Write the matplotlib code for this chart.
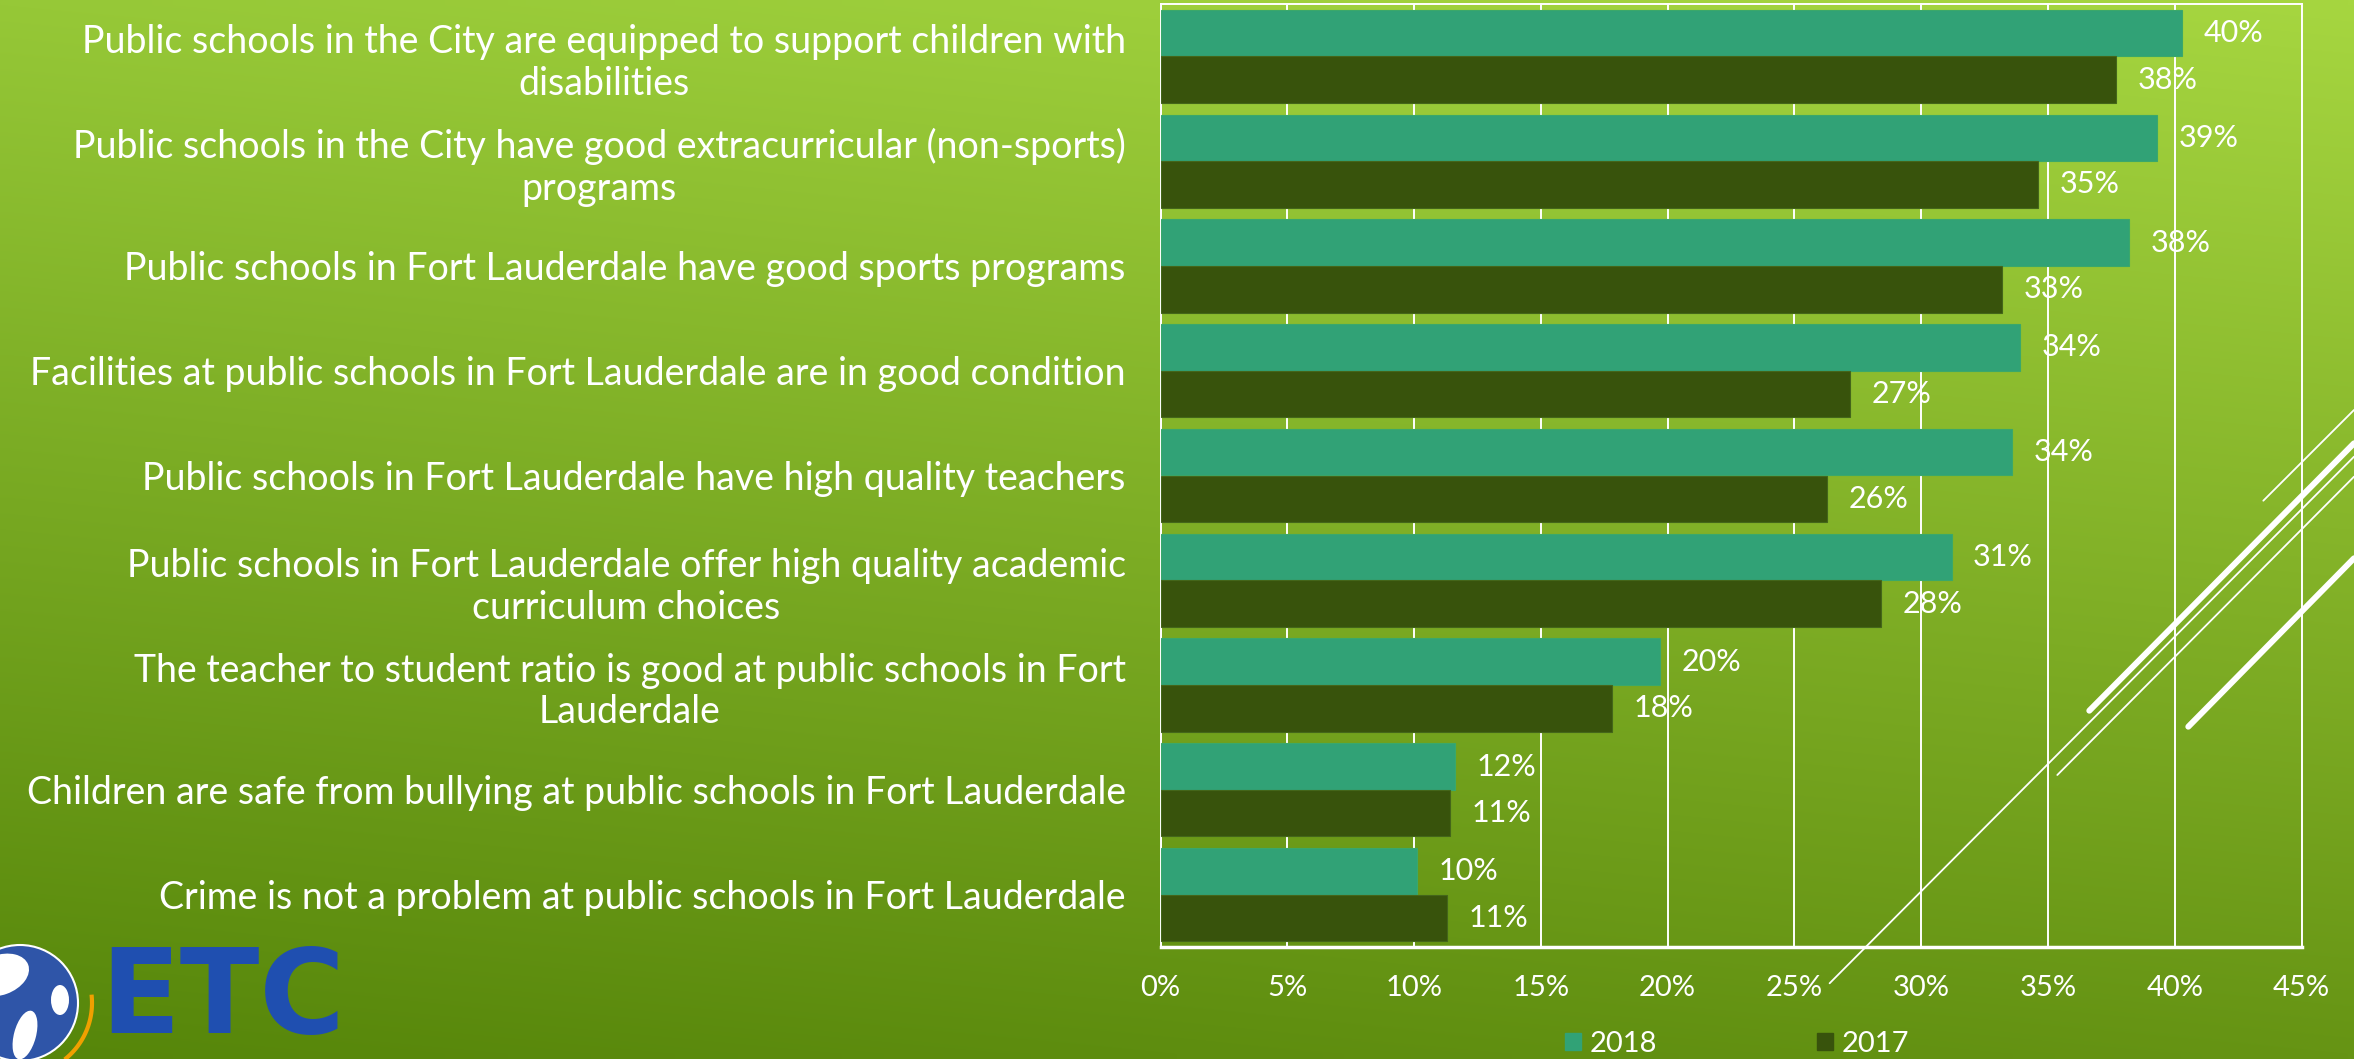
import numpy as np
import matplotlib.pyplot as plt
from matplotlib import patches

categories = [
    "Public schools in the City are equipped to support children with\ndisabilities",
    "Public schools in the City have good extracurricular (non-sports)\nprograms",
    "Public schools in Fort Lauderdale have good sports programs",
    "Facilities at public schools in Fort Lauderdale are in good condition",
    "Public schools in Fort Lauderdale have high quality teachers",
    "Public schools in Fort Lauderdale offer high quality academic\ncurriculum choices",
    "The teacher to student ratio is good at public schools in Fort\nLauderdale",
    "Children are safe from bullying at public schools in Fort Lauderdale",
    "Crime is not a problem at public schools in Fort Lauderdale",
]
pct_2018 = [40.3, 39.3, 38.2, 33.9, 33.6, 31.2, 19.7, 11.6, 10.1]
pct_2017 = [37.7, 34.6, 33.2, 27.2, 26.3, 28.4, 17.8, 11.4, 11.3]
xticks = [0, 5, 10, 15, 20, 25, 30, 35, 40, 45]
series = ["2018", "2017"]

c2018 = "#31a276"
c2017 = "#38530c"
font = "Lato"

W, H = 2354, 1059
fig = plt.figure(figsize=(W / 100, H / 100), dpi=100)

# background gradient (light top-right -> dark bottom-left)
tl, tr = np.array([150, 200, 55]), np.array([166, 214, 64])
bl, br = np.array([86, 134, 10]), np.array([102, 148, 20])
v, u = np.mgrid[0:1:100j, 0:1:200j]
grad = ((1 - v)[..., None] * ((1 - u)[..., None] * tl + u[..., None] * tr)
        + v[..., None] * ((1 - u)[..., None] * bl + u[..., None] * br)) / 255
bg = fig.add_axes([0, 0, 1, 1], zorder=0)
bg.imshow(grad, extent=[0, 1, 0, 1], aspect="auto", interpolation="bilinear")
bg.axis("off")

# main chart
ax = fig.add_axes([1160.5 / W, 1 - 947 / H, 1141 / W, 943 / H], zorder=1)
ax.patch.set_alpha(0)
y = np.arange(len(categories))
h = 0.445
ax.barh(y - h / 2, pct_2018, height=h, color=c2018, edgecolor="#3aa86a", lw=0.8, label=series[0], zorder=3)
ax.barh(y + h / 2, pct_2017, height=h, color=c2017, edgecolor="#44661a", lw=0.8, label=series[1], zorder=3)
for yy, a, b in zip(y, pct_2018, pct_2017):
    ax.text(a + 0.85, yy - h / 2, f"{a:.0f}%", va="center", ha="left", color="white",
            fontsize=22, family=font)
    ax.text(b + 0.85, yy + h / 2, f"{b:.0f}%", va="center", ha="left", color="white",
            fontsize=22, family=font)

ax.set_xlim(0, 45)
ax.set_ylim(len(categories) - 0.5, -0.5)
ax.set_xticks(xticks)
ax.set_xticklabels([f"{t}%" for t in xticks], family=font, fontsize=21, color="white")
ax.set_yticks(y)
ax.set_yticklabels(categories, family=font, fontsize=27, color="white",
                   multialignment="center")
ax.tick_params(axis="both", length=0)
ax.tick_params(axis="y", pad=25)
ax.tick_params(axis="x", pad=20)
ax.grid(axis="x", color="white", lw=1.4, zorder=1)
for s in ax.spines.values():
    s.set_color("white")
    s.set_linewidth(1.4)
ax.spines["bottom"].set_linewidth(2.5)

# decorative theme lines + logo
ov = fig.add_axes([0, 0, 1, 1], zorder=2)
ov.set_xlim(0, W)
ov.set_ylim(H, 0)
ov.axis("off")
ov.patch.set_alpha(0)
thin = [((1829.6, 983.3), (2354, 456.7)), ((2057.3, 775), (2354, 476.7)),
        ((2263.3, 500.7), (2354, 410))]
thick = [((2089.3, 710.7), (2354, 443.3)), ((2188.3, 726.7), (2354, 558.3))]
for (x0, y0), (x1, y1) in thin:
    ov.plot([x0, x1], [y0, y1], color="white", lw=1.3, solid_capstyle="round")
for (x0, y0), (x1, y1) in thick:
    ov.plot([x0, x1], [y0, y1], color="white", lw=4.3, solid_capstyle="round")

ang = np.linspace(np.radians(-5), np.radians(50), 40)
ov.plot(20 + 72 * np.cos(ang), 1003 + 72 * np.sin(ang), color="#f0a000", lw=3)
ov.add_patch(patches.Circle((20, 1003), 58, facecolor="#2f55a8", edgecolor="white", lw=1.5))
ov.add_patch(patches.Ellipse((0, 975), 60, 40, angle=-20, facecolor="white"))
ov.add_patch(patches.Ellipse((25, 1035), 22, 50, angle=15, facecolor="white"))
ov.add_patch(patches.Ellipse((60, 1000), 18, 30, angle=0, facecolor="white"))
ov.text(100, H - 1, "ETC", fontsize=84, weight="bold", family="DejaVu Sans", color="#1f4fb0",
        va="bottom", ha="left")

handles = [patches.Patch(color=c2018), patches.Patch(color=c2017)]
fig.legend(handles, series, loc="center", bbox_to_anchor=(1737 / W, 1 - 1044 / H), ncol=2,
           frameon=False, handlelength=0.55, handleheight=0.55, handletextpad=0.3,
           columnspacing=5.5, prop={"family": font, "size": 21},
           labelcolor="white", borderpad=0.1)

fig.savefig("out.png", dpi=100)
